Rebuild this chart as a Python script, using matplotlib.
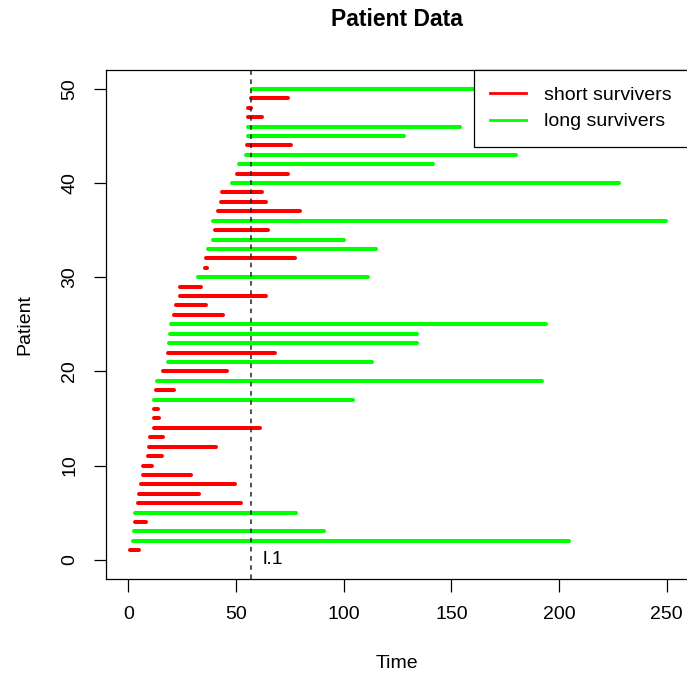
#!/usr/bin/env python3
"""Patient follow-up segments: short vs long survivors."""

import matplotlib
matplotlib.use('Agg')
import matplotlib.pyplot as plt

plt.rcParams['font.family'] = ['Liberation Sans', 'DejaVu Sans']

# one segment per patient: start time, end time, group
patients = list(range(1, 51))
starts = [1, 2.4, 2.7, 3, 3.3, 4.4, 5, 6, 6.6, 7,
          9.3, 9.8, 10.3, 11.8, 11.8, 12, 12, 13, 13.3, 16,
          18.6, 18.6, 18.9, 19.3, 20, 21, 22, 24, 24, 32.6,
          35.5, 36, 37, 39.4, 40.3, 39.5, 41.5, 43.2, 43.7, 48.2,
          50.5, 51.2, 54.8, 55.1, 55.4, 55.5, 55.5, 55.5, 57, 57.4]
ends = [5, 204.5, 91, 8.4, 78, 52.3, 33, 49.7, 28.9, 11,
        15.6, 40.7, 16, 61, 14.2, 13.8, 104.5, 21, 192, 45.8,
        113.3, 68, 134, 134, 194, 44, 36, 63.9, 33.6, 111.5,
        36.6, 77.3, 115, 100, 65, 249.8, 79.7, 63.9, 62.3, 228,
        74, 141.3, 180, 75.5, 128.2, 154, 62.1, 57, 74.3, 200]
groups = ['short', 'long', 'long', 'short', 'long', 'short', 'short', 'short', 'short', 'short',
          'short', 'short', 'short', 'short', 'short', 'short', 'long', 'short', 'long', 'short',
          'long', 'short', 'long', 'long', 'long', 'short', 'short', 'short', 'short', 'long',
          'short', 'short', 'long', 'long', 'short', 'long', 'short', 'short', 'short', 'long',
          'short', 'long', 'long', 'short', 'long', 'long', 'short', 'short', 'short', 'long']

landmark = 57
landmark_label = 'l.1'

colors = {'short': '#FF0000', 'long': '#00FF00'}
labels = {'short': 'short survivers', 'long': 'long survivers'}


def main():
    W, H = 687, 679
    fig = plt.figure(figsize=(W / 100, H / 100), dpi=100)
    left, right, top, bottom = 106, 688, 70, 578.5
    ax = fig.add_axes([left / W, 1 - bottom / H, (right - left) / W, (bottom - top) / H])

    for p, s, e, g in zip(patients, starts, ends, groups):
        ax.plot([s, e], [p, p], color=colors[g], lw=2.9, solid_capstyle='round')

    ax.axvline(landmark, color='#222222', lw=1.1, linestyle=(0, (3, 3)))
    ax.text(landmark + 5.5, 0, landmark_label, ha='left', va='center', fontsize=14)

    ax.set_xlim(-10.35, 259.9)
    ax.set_ylim(-2, 52)
    ax.set_xticks([0, 50, 100, 150, 200, 250])
    ax.set_yticks([0, 10, 20, 30, 40, 50])
    ax.tick_params(direction='out', length=9, width=0.9, labelsize=14, pad=11)
    for lab in ax.get_yticklabels():
        lab.set_rotation(90)
        lab.set_va('center')

    for sp in ax.spines.values():
        sp.set_linewidth(0.9)

    ax.set_xlabel('Time', fontsize=14)
    ax.set_ylabel('Patient', fontsize=14)
    ax.xaxis.set_label_coords(0.5, -0.168)
    ax.yaxis.set_label_coords(-0.14, 0.5)
    ax.xaxis.label.set_va('center')
    ax.yaxis.label.set_va('center')

    fig.text(397 / W, 1 - 20 / H, 'Patient Data', ha='center', va='center',
             fontsize=16.5, fontweight='bold')

    handles = [plt.Line2D([], [], color=colors[g], lw=2) for g in ('short', 'long')]
    leg = ax.legend(handles, [labels['short'], labels['long']], loc='upper right',
                    bbox_to_anchor=(1, 1), borderaxespad=0, fancybox=False,
                    edgecolor='black', framealpha=1, fontsize=14,
                    handlelength=1.85, handletextpad=0.9, borderpad=0.85, labelspacing=0.45)
    leg.get_frame().set_linewidth(0.9)

    fig.savefig('out.png', dpi=100)


if __name__ == '__main__':
    main()
